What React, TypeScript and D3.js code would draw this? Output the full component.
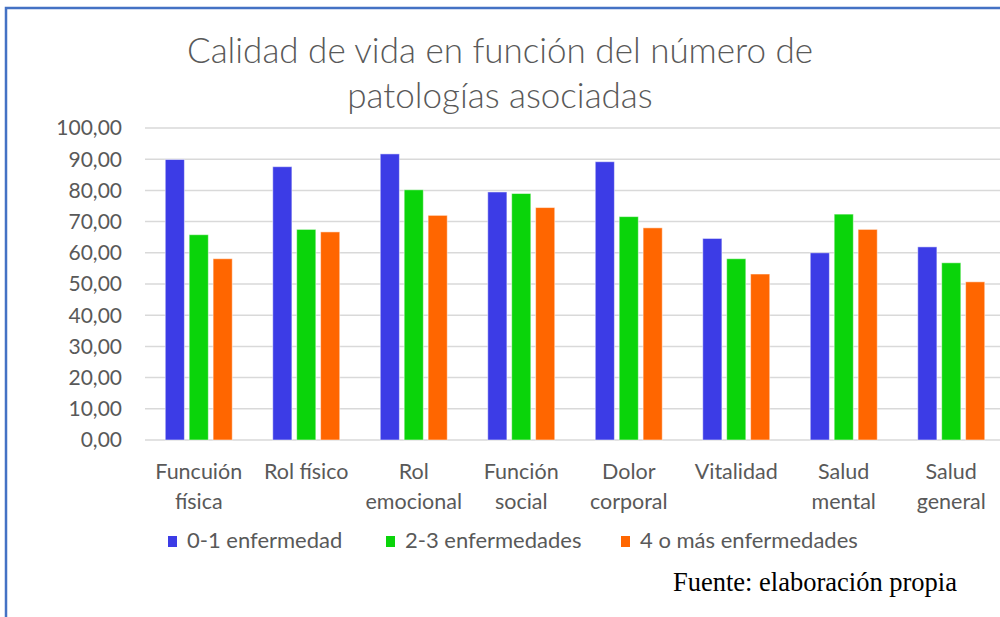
import React from "react";
import * as d3 from "d3";

const categories = [
  ["Funcuión", "física"],
  ["Rol físico"],
  ["Rol", "emocional"],
  ["Función", "social"],
  ["Dolor", "corporal"],
  ["Vitalidad"],
  ["Salud", "mental"],
  ["Salud", "general"],
];
const seriesNames = ["0-1 enfermedad", "2-3 enfermedades", "4 o más enfermedades"];
const low = [89.9, 87.6, 91.7, 79.5, 89.2, 64.6, 60.0, 61.9];
const mid = [65.8, 67.5, 80.2, 79.0, 71.6, 58.1, 72.4, 56.8];
const high = [58.1, 66.7, 72.0, 74.5, 68.0, 53.2, 67.5, 50.7];
const yTicks = [0, 10, 20, 30, 40, 50, 60, 70, 80, 90, 100];
const colors = ["#3c3ce6", "#0ad40a", "#ff6600"];

const W = 1000;
const H = 617;
const font = "Lato, 'Open Sans', sans-serif";
const grey = "#595959";

export default function App() {
  const series = [low, mid, high];
  const x = d3
    .scaleBand<number>()
    .domain(d3.range(categories.length))
    .range([145, 1005]);
  const y = d3.scaleLinear().domain([0, 100]).range([440, 128]);
  const inner = d3
    .scaleBand<number>()
    .domain([0, 1, 2])
    .range([0, 67])
    .paddingInner(0.2);
  const groupOffset = (x.bandwidth() - 67) / 2;
  const fmt = (v: number) => d3.format(".2f")(v).replace(".", ",");
  const legendX = [168, 386, 621];

  return (
    <svg
      width={W}
      height={H}
      style={{ display: "block", position: "absolute", left: 0, top: 0 }}
    >
      <rect x={0} y={0} width={W} height={H} fill="#fff" />
      <rect
        x={6}
        y={8}
        width={W + 20}
        height={H + 20}
        fill="none"
        stroke="#4472c4"
        strokeWidth={2.5}
      />

      <text
        x={500}
        y={63}
        textAnchor="middle"
        fontFamily={font}
        fontWeight={300}
        fontSize={35}
        fill={grey}
      >
        Calidad de vida en función del número de
      </text>
      <text
        x={500}
        y={108}
        textAnchor="middle"
        fontFamily={font}
        fontWeight={300}
        fontSize={35}
        fill={grey}
      >
        patologías asociadas
      </text>

      {yTicks.map((t) => (
        <g key={t}>
          <line
            x1={145}
            x2={W}
            y1={y(t)}
            y2={y(t)}
            stroke="#d9d9d9"
            strokeWidth={1.5}
          />
          <text
            x={122}
            y={y(t)}
            dy="0.35em"
            textAnchor="end"
            fontFamily={font}
            fontSize={21}
            fill={grey}
          >
            {fmt(t)}
          </text>
        </g>
      ))}

      {categories.map((c, i) => (
        <g key={i} transform={`translate(${x(i)! + groupOffset},0)`}>
          {series.map((s, k) => (
            <rect
              key={k}
              x={inner(k)}
              y={y(s[i])}
              width={inner.bandwidth()}
              height={y(0) - y(s[i])}
              fill={colors[k]}
              stroke="#ffffff"
              strokeOpacity={0.5}
              strokeWidth={1}
            />
          ))}
        </g>
      ))}

      {categories.map((c, i) =>
        c.map((line, j) => (
          <text
            key={i + "-" + j}
            x={x(i)! + x.bandwidth() / 2}
            y={479 + j * 30}
            textAnchor="middle"
            fontFamily={font}
            fontSize={21.5}
            fill={grey}
          >
            {line}
          </text>
        ))
      )}

      {seriesNames.map((n, k) => (
        <g key={n}>
          <rect x={legendX[k]} y={536} width={9} height={11} fill={colors[k]} />
          <text
            x={legendX[k] + 19}
            y={548}
            fontFamily={font}
            fontSize={22}
            fill={grey}
          >
            {n}
          </text>
        </g>
      ))}

      <text
        x={957}
        y={591}
        textAnchor="end"
        fontFamily="'Liberation Serif', 'DejaVu Serif', serif"
        fontSize={26.5}
        fill="#000"
      >
        Fuente: elaboración propia
      </text>
    </svg>
  );
}
